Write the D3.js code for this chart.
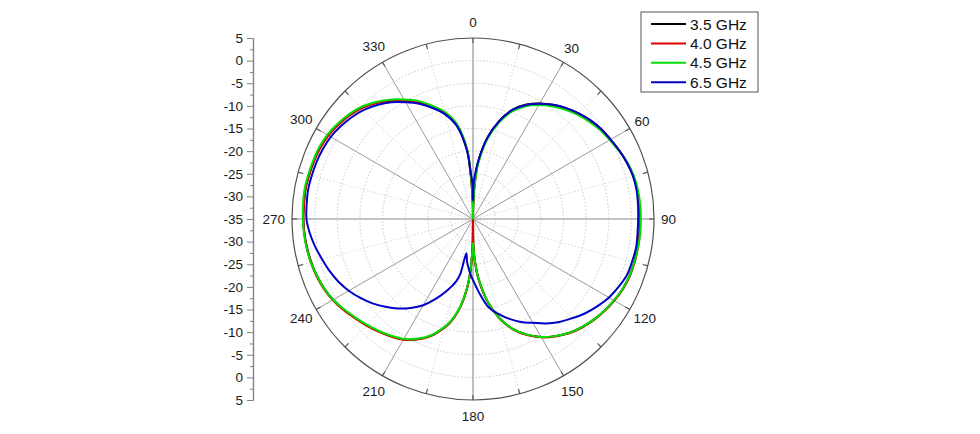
<!DOCTYPE html>
<html>
<head>
<meta charset="utf-8">
<script src="https://cdn.jsdelivr.net/npm/d3@7"></script>
<style>
  html, body { margin: 0; padding: 0; background: #ffffff; }
  svg { display: block; font-family: "Liberation Sans", Arial, sans-serif; }
</style>
</head>
<body>
<svg id="chart" width="980" height="434"></svg>
<script>
// ---------- data ----------
const angles = [0,1,2,3,5,10,15,20,25,30,
  35,40,45,50,55,60,65,70,75,80,
  85,90,95,100,105,110,115,120,125,130,
  135,140,145,150,155,160,165,170,175,177,
  179,180,181,183,185,188,191,193,195,200,
  205,210,215,220,225,230,235,240,245,250,
  255,260,265,270,275,280,285,290,295,300,
  305,310,315,320,325,330,335,340,345,350,
  355,357,359];

const ghz35 = [-35,-32,-29,-26.5,-22.5,-16.8,-12.6,-9.3,-7.1,-5.5,
  -4.2,-3.0,-2.0,-1.1,-0.4,0.1,0.7,1.3,1.7,1.9,
  1.9,1.8,1.9,1.9,1.9,1.8,1.5,1.0,0.4,-0.3,
  -1.1,-2.1,-3.4,-4.9,-6.8,-9.1,-12.3,-16.5,-22,-25,
  -28.5,-35,-28.5,-23,-19.5,-15.6,-12.8,-11.3,-10.1,-7.5,
  -5.7,-4.3,-3.4,-2.6,-1.8,-1.0,-0.1,0.7,1.3,1.7,
  2.0,2.2,2.4,2.5,2.5,2.6,2.5,2.4,2.3,2.0,
  1.4,0.7,-0.2,-1.5,-3.0,-4.7,-6.4,-8.5,-10.6,-13.6,
  -19.5,-25,-31];

const ghz40 = [-35,-32,-29.2,-26.8,-22.7,-16.9,-12.7,-9.4,-7.2,-5.6,
  -4.3,-3.1,-2.1,-1.2,-0.4,0.1,0.7,1.3,1.7,1.9,
  1.9,1.9,2.0,2.0,2.0,1.9,1.6,1.1,0.5,-0.2,
  -1.0,-2.0,-3.3,-4.8,-6.7,-9.0,-12.2,-16.4,-22,-25,
  -28.5,-35,-28.5,-23,-19.4,-15.5,-12.7,-11.2,-10.0,-7.4,
  -5.6,-4.2,-3.3,-2.5,-1.7,-0.9,0.0,0.8,1.4,1.8,
  2.1,2.3,2.4,2.5,2.5,2.6,2.5,2.4,2.2,1.9,
  1.3,0.6,-0.3,-1.6,-3.1,-4.8,-6.5,-8.6,-10.7,-13.7,
  -19.6,-25,-31];

const ghz45 = [-35,-32.5,-29.8,-27.3,-23.2,-17.3,-13.0,-9.7,-7.5,-5.9,
  -4.6,-3.4,-2.4,-1.5,-0.7,-0.1,0.6,1.3,1.8,2.0,
  2.1,2.1,2.1,2.0,1.9,1.8,1.5,1.0,0.4,-0.3,
  -1.1,-2.1,-3.4,-4.9,-6.8,-9.1,-12.3,-16.5,-22.2,-25.2,
  -28.3,-29.7,-28.3,-23.2,-19.6,-15.7,-12.9,-11.4,-10.2,-7.6,
  -5.8,-4.4,-3.5,-2.7,-1.9,-1.1,-0.2,0.7,1.3,1.7,
  2.1,2.3,2.5,2.6,2.7,2.8,2.7,2.6,2.5,2.2,
  1.6,0.9,0.0,-1.3,-2.8,-4.5,-6.2,-8.3,-10.4,-13.4,
  -19.2,-24.5,-30.5];

const ghz65 = [-31,-27,-25.8,-24.8,-22.3,-16.8,-12.6,-9.3,-7.2,-5.6,
  -4.2,-3.0,-2.0,-1.1,-0.4,0.1,0.7,1.2,1.6,1.7,
  1.6,1.5,1.5,1.6,1.4,1.2,0.5,-0.3,-1.4,-2.6,
  -4.0,-5.3,-6.8,-8.5,-9.9,-11.5,-13.3,-15.2,-18.5,-19.8,
  -21.0,-21.5,-22.0,-23.0,-24.0,-25.5,-27.3,-22.5,-20.8,-18.1,
  -15.5,-13.0,-11.0,-9.2,-7.6,-6.0,-4.6,-3.3,-2.2,-1.3,
  -0.5,0.4,1.2,1.8,1.9,2.0,1.9,1.8,1.6,1.3,
  0.7,0.0,-0.9,-2.1,-3.5,-5.2,-6.9,-8.9,-11.0,-14.0,
  -19.8,-24.5,-27];

const seriesNames = ["3.5 GHz", "4.0 GHz", "4.5 GHz", "6.5 GHz"];
const seriesColors = ["#000000", "#e00000", "#00e000", "#0000c8"];
const seriesValues = [ghz35, ghz40, ghz45, ghz65];

const angleLabels = [0,30,60,90,120,150,180,210,240,270,300,330];
const radialTicks = [5,0,-5,-10,-15,-20,-25,-30,-35];
const gridLevels = [-30,-25,-20,-15,-10,-5,0];

// ---------- layout ----------
const cx = 473, cy = 219, R = 181;
const svg = d3.select("#chart");

const rScale = d3.scaleLinear().domain([-35, 5]).range([0, R]).clamp(true);
const aScale = d3.scaleLinear().domain([0, 360]).range([0, 2 * Math.PI]);

const g = svg.append("g").attr("transform", `translate(${cx},${cy})`);

// dotted grid circles
g.selectAll("circle.grid").data(gridLevels).enter().append("circle")
  .attr("r", d => rScale(d))
  .attr("fill", "none")
  .attr("stroke", "#c8c8c8")
  .attr("stroke-width", 1)
  .attr("stroke-dasharray", "1.5,2");

// dotted minor spokes (15 deg offsets)
const minorSpokes = d3.range(15, 360, 30);
g.selectAll("line.minor").data(minorSpokes).enter().append("line")
  .attr("x1", 0).attr("y1", 0)
  .attr("x2", d => R * Math.sin(aScale(d)))
  .attr("y2", d => -R * Math.cos(aScale(d)))
  .attr("stroke", "#d8d8d8")
  .attr("stroke-width", 1)
  .attr("stroke-dasharray", "1.5,2");

// major spokes
g.selectAll("line.major").data(angleLabels).enter().append("line")
  .attr("x1", 0).attr("y1", 0)
  .attr("x2", d => R * Math.sin(aScale(d)))
  .attr("y2", d => -R * Math.cos(aScale(d)))
  .attr("stroke", d => d % 90 === 0 ? "#b0b0b0" : "#9a9a9a")
  .attr("stroke-width", d => d % 90 === 0 ? 1.6 : 1);

// outer circle
g.append("circle").attr("r", R).attr("fill", "none")
  .attr("stroke", "#505050").attr("stroke-width", 1.2);

// ticks on outer circle every 15 deg
const circTicks = d3.range(0, 360, 15);
g.selectAll("line.ctick").data(circTicks).enter().append("line")
  .attr("x1", d => R * Math.sin(aScale(d)))
  .attr("y1", d => -R * Math.cos(aScale(d)))
  .attr("x2", d => (R - 5) * Math.sin(aScale(d)))
  .attr("y2", d => -(R - 5) * Math.cos(aScale(d)))
  .attr("stroke", "#505050").attr("stroke-width", 1.1);

// curves
const line = d3.lineRadial()
  .angle(d => aScale(d.a))
  .radius(d => rScale(d.v))
  .curve(d3.curveCatmullRomClosed.alpha(0.5));

seriesValues.forEach((vals, i) => {
  const pts = angles.map((a, k) => ({a: a, v: vals[k]}));
  g.append("path")
    .attr("d", line(pts))
    .attr("fill", "none")
    .attr("stroke", seriesColors[i])
    .attr("stroke-width", 2)
    .attr("stroke-linejoin", "round");
});

// angle labels
const lab = g.selectAll("text.ang").data(angleLabels).enter().append("text")
  .attr("font-size", 13.5)
  .attr("fill", "#1a1a1a")
  .attr("text-anchor", "middle")
  .attr("dominant-baseline", "central")
  .text(d => d);
lab.each(function(d) {
  const w = this.getComputedTextLength();
  const s = Math.sin(aScale(d)), c = Math.cos(aScale(d));
  const dist = 188 + Math.abs(s) * w / 2 + Math.pow(Math.abs(c), 4) * 9;
  d3.select(this).attr("x", dist * s).attr("y", -dist * c);
});

// left radial axis (mirrored)
const axX = 253;
const yTop = d3.scaleLinear().domain([5, -35]).range([cy - R, cy]);
const yBot = d3.scaleLinear().domain([-35, 5]).range([cy, cy + R]);

function styleAxis(sel) {
  sel.select(".domain").attr("stroke", "#808080").attr("stroke-width", 1.2);
  sel.selectAll(".tick line").attr("stroke", "#808080").attr("stroke-width", 1);
  sel.selectAll(".tick text").attr("fill", "#1a1a1a").attr("font-size", 13.5)
    .attr("font-family", "Liberation Sans, Arial, sans-serif");
}
const minorTicks = d3.range(2.5, -35, -5);

const axTop = svg.append("g").attr("transform", `translate(${axX},0)`)
  .call(d3.axisLeft(yTop).tickValues(radialTicks).tickSize(6).tickPadding(4).tickSizeOuter(0));
styleAxis(axTop);
const axTopMinor = svg.append("g").attr("transform", `translate(${axX},0)`)
  .call(d3.axisLeft(yTop).tickValues(minorTicks).tickSize(3).tickFormat("").tickSizeOuter(0));
styleAxis(axTopMinor);

const axBot = svg.append("g").attr("transform", `translate(${axX},0)`)
  .call(d3.axisLeft(yBot).tickValues(radialTicks.filter(v => v !== -35)).tickSize(6).tickPadding(4).tickSizeOuter(0));
styleAxis(axBot);
const axBotMinor = svg.append("g").attr("transform", `translate(${axX},0)`)
  .call(d3.axisLeft(yBot).tickValues(minorTicks).tickSize(3).tickFormat("").tickSizeOuter(0));
styleAxis(axBotMinor);
svg.selectAll(".tick text").text(function() { return d3.select(this).text().replace("−", "-"); });

// legend
const lg = svg.append("g");
lg.append("rect").attr("x", 641).attr("y", 12).attr("width", 117).attr("height", 80)
  .attr("fill", "#ffffff").attr("stroke", "#555555").attr("stroke-width", 1);
seriesNames.forEach((n, i) => {
  const y = 24 + i * 19.4;
  lg.append("line").attr("x1", 651).attr("x2", 686).attr("y1", y).attr("y2", y)
    .attr("stroke", seriesColors[i]).attr("stroke-width", 2);
  lg.append("text").attr("x", 690).attr("y", y).attr("dominant-baseline", "central")
    .attr("font-size", 15.5).attr("fill", "#111").text(n);
});
</script>
</body>
</html>
